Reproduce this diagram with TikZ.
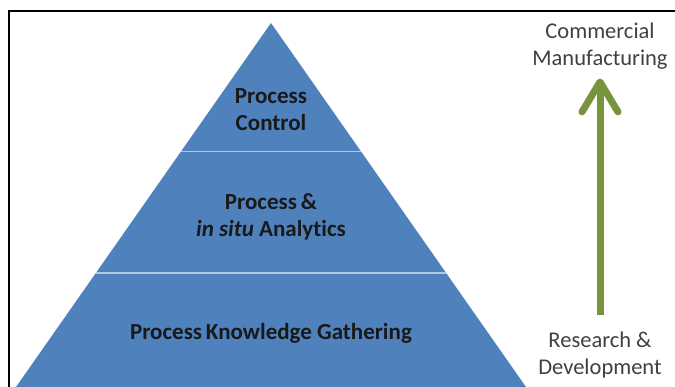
\documentclass[tikz,border=0pt]{standalone}
\usepackage{fontspec}
\setmainfont{Carlito}[Ligatures=NoCommon]
\usetikzlibrary{calc}
\usetikzlibrary{arrows.meta}
\definecolor{pyrblue}{HTML}{4F81BD}
\definecolor{pyrline}{HTML}{B4C8E4}
\definecolor{olive}{HTML}{77933C}
\definecolor{labgray}{HTML}{404040}
\tikzset{tier/.style = {align=center, font=\fontsize{23}{27}\selectfont\bfseries,
                        text=black!90, inner sep=0}}
\tikzset{stage/.style = {align=center, font=\fontsize{22.5}{27}\selectfont,
                         text=labgray, inner sep=0}}
\tikzset{growth/.style = {draw=olive, line width=7pt,
                          -{Straight Barb[length=30pt,width=36pt,round]}}}

\begin{document}
\begin{tikzpicture}[x=1pt, y=-1pt]
  \useasboundingbox (0,0) rectangle (675,387);
  \clip (0,0) rectangle (675,387);
  % pyramid outline
  \coordinate (apex) at (271,23);
  \coordinate (bl) at (16,387);
  \coordinate (br) at (526,387);
  \fill[pyrblue] (apex) -- (br) -- (bl) -- cycle;
  % tier dividers
  \draw[pyrline, line width=1.2pt]
    ($(apex)!0.354!(bl)$) -- ($(apex)!0.354!(br)$)
    ($(apex)!0.687!(bl)$) -- ($(apex)!0.687!(br)$);
  % frame (top and left edges only)
  \draw[line width=2.5pt] (675,11) -- (9,11) -- (9,390);
  % tier labels
  \node[tier] (ctrl) at (271,110) {Process\\Control};
  \node[tier] (anal) at (271,217) {Process\,\&\\\textit{in situ} Analytics};
  \node[tier] (know) at (271,333) {Process\,Knowledge Gathering};
  % stages and the arrow between them
  \node[stage] (cm) at (600,46) {Commercial\\Manufacturing};
  \node[stage] (rd) at (600,355) {Research \&\\Development};
  \draw[growth, shorten <=17pt, shorten >=0pt] (rd.north) -- ($(cm.south)+(0,9)$);
\end{tikzpicture}
\end{document}
